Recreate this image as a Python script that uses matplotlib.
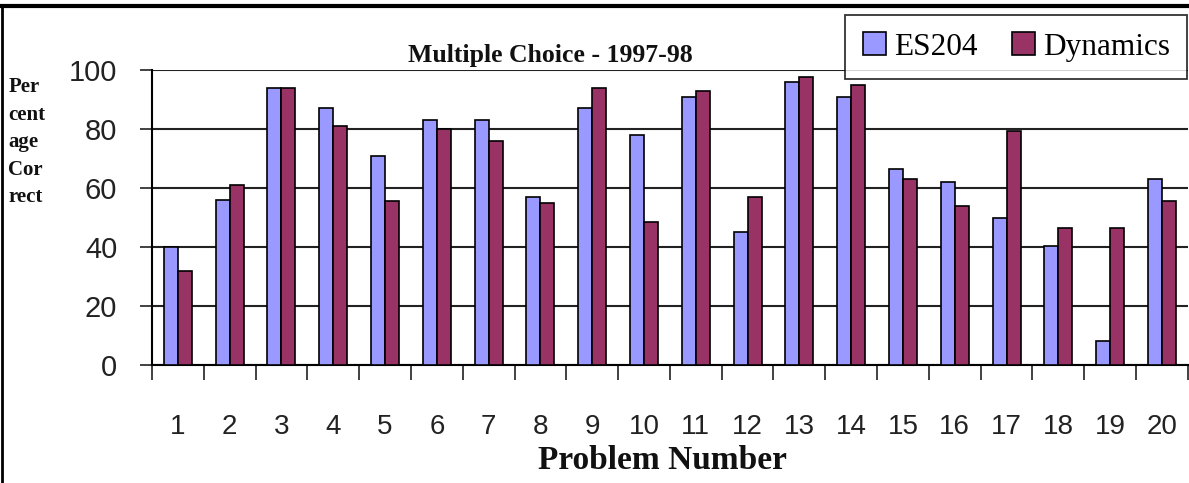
import numpy as np
import matplotlib.pyplot as plt
from matplotlib.lines import Line2D

# Percentage correct per multiple choice problem
problems = [str(i) for i in range(1, 21)]
es204 = [40, 56, 94, 87, 71, 83, 83, 57, 87, 78, 91, 45, 96, 91, 66.5, 62, 50, 40.5, 8, 63]
dynamics = [32, 61, 94, 81, 55.5, 80, 76, 55, 94, 48.5, 93, 57, 97.5, 95, 63, 54, 79.5, 46.5, 46.5, 55.5]

ES_COLOR = '#9999FF'
DYN_COLOR = '#993366'
SERIF = 'Liberation Serif'
SANS = 'Liberation Sans'

fig = plt.figure(figsize=(11.89, 4.83), dpi=100)
ax = fig.add_axes([0.1278, 0.2443, 0.8712, 0.6107])

x = np.arange(len(problems))
w = 0.27
ax.bar(x - w / 2, es204, w, color=ES_COLOR, edgecolor='black', linewidth=1.2,
       label='ES204', zorder=3)
ax.bar(x + w / 2, dynamics, w, color=DYN_COLOR, edgecolor='black', linewidth=1.2,
       label='Dynamics', zorder=3)

ax.set_xlim(-0.5, len(problems) - 0.5)
ax.set_ylim(0, 100)
ax.set_yticks([0, 20, 40, 60, 80, 100])
ax.yaxis.grid(True, color='#222222', linewidth=1.5, zorder=0)
ax.set_axisbelow(True)

# category labels sit low, tick marks go on the category boundaries
ax.set_xticks(x)
ax.set_xticklabels(problems, family=SANS, fontsize=20, color='#222222')
ax.tick_params(axis='x', which='major', length=0, pad=35)
ax.set_xticks(np.arange(-0.5, len(problems)), minor=True)
ax.tick_params(axis='x', which='minor', length=11, width=1.3, color='#333333')
ax.tick_params(axis='y', length=9, width=1.3, pad=16, color='#333333')
for lbl in ax.get_yticklabels():
    lbl.set_family(SANS)
    lbl.set_fontsize(21)
    lbl.set_color('#222222')

for side in ['top', 'right']:
    ax.spines[side].set_visible(False)
ax.spines['left'].set_linewidth(1.5)
ax.spines['bottom'].set_linewidth(1.5)

fig.text(0.4626, 0.886, 'Multiple Choice - 1997-98', family=SERIF, weight='bold',
         fontsize=18.5, ha='center', va='center', color='#111111')
fig.text(0.557, 0.047, 'Problem Number', family=SERIF, weight='bold',
         fontsize=24, ha='center', va='center', color='#111111')
fig.text(0.007, 0.706, 'Per\ncent\nage\nCor\nrect', family=SERIF, weight='bold',
         fontsize=15, ha='left', va='center', linespacing=1.5, color='#111111')

leg = fig.legend(loc='upper right', bbox_to_anchor=(0.9985, 0.969), ncol=2,
                 prop={'family': SERIF, 'size': 22.5}, frameon=True, fancybox=False,
                 handlelength=0.75, handleheight=0.75, handletextpad=0.25,
                 columnspacing=1.1, borderpad=0.55, borderaxespad=0,
                 edgecolor='black')
leg.get_frame().set_linewidth(1.3)

# outer frame lines along the top and left edges
fig.add_artist(Line2D([0, 1], [0.988, 0.988], transform=fig.transFigure,
                      color='black', linewidth=3))
fig.add_artist(Line2D([0.002, 0.002], [0, 0.99], transform=fig.transFigure,
                      color='black', linewidth=2))

fig.savefig('out.png', dpi=100)
